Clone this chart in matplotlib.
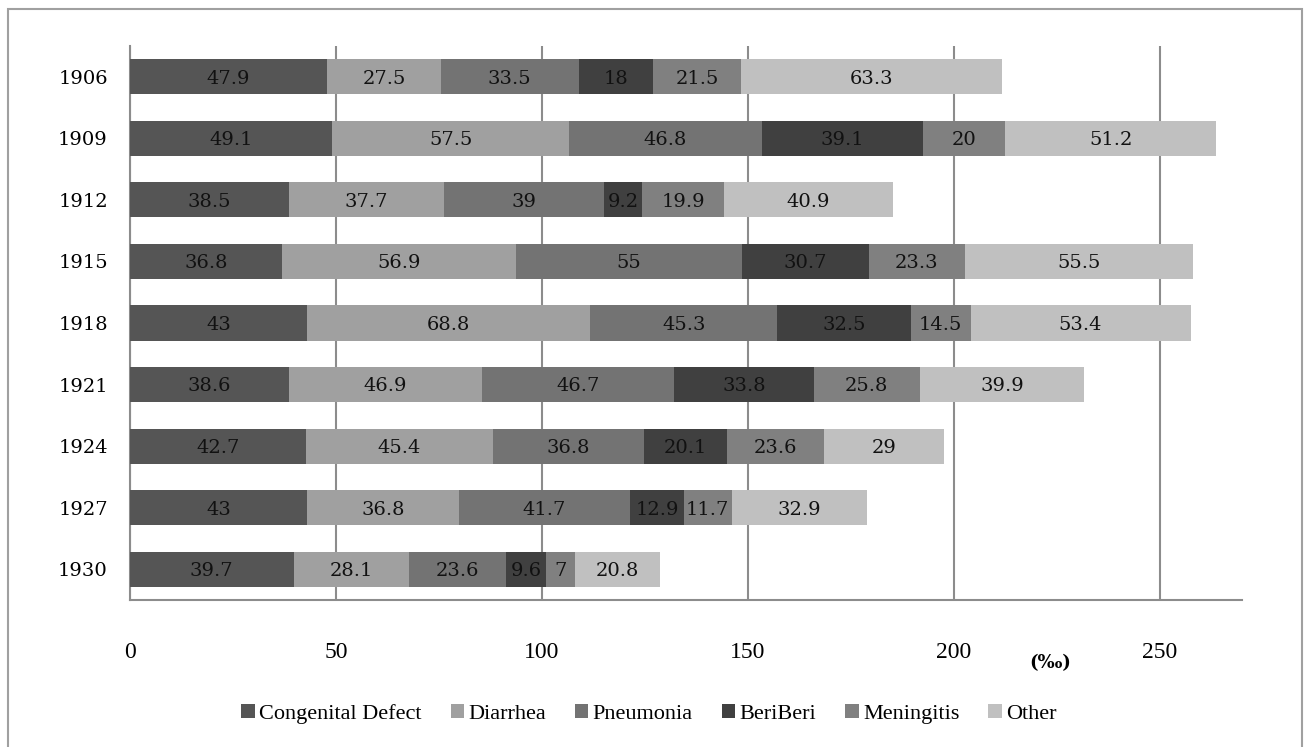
import matplotlib as mpl
import matplotlib.pyplot as plt
import numpy as np
from matplotlib.patches import Rectangle

mpl.use('agg')

years = ['1906', '1909', '1912', '1915', '1918', '1921', '1924', '1927', '1930']
causes = ['Congenital Defect', 'Diarrhea', 'Pneumonia', 'BeriBeri', 'Meningitis', 'Other']

congenital = [47.9, 49.1, 38.5, 36.8, 43, 38.6, 42.7, 43, 39.7]
diarrhea = [27.5, 57.5, 37.7, 56.9, 68.8, 46.9, 45.4, 36.8, 28.1]
pneumonia = [33.5, 46.8, 39, 55, 45.3, 46.7, 36.8, 41.7, 23.6]
beriberi = [18, 39.1, 9.2, 30.7, 32.5, 33.8, 20.1, 12.9, 9.6]
meningitis = [21.5, 20, 19.9, 23.3, 14.5, 25.8, 23.6, 11.7, 7]
other = [63.3, 51.2, 40.9, 55.5, 53.4, 39.9, 29, 32.9, 20.8]

series = [congenital, diarrhea, pneumonia, beriberi, meningitis, other]
colors = ['#555555', '#a0a0a0', '#737373', '#404040', '#808080', '#c0c0c0']

W, H = 1304, 747
fig = plt.figure(figsize=(W / 100, H / 100), dpi=100)
ax = fig.add_axes([130 / W, 1 - 600 / H, (1242 - 130) / W, (600 - 46) / H])

# outer frame like the spreadsheet chart area
fig.patches.append(Rectangle((8 / W, -0.02), (1302 - 8) / W, 1.02 - 9 / H,
                             transform=fig.transFigure, fill=False,
                             edgecolor='#a0a0a0', lw=1.5))

ypos = np.arange(len(years))
left = np.zeros(len(years))
for name, vals, c in zip(causes, series, colors):
    vals = np.array(vals)
    ax.barh(ypos, vals, left=left, height=0.57, color=c, label=name, zorder=3)
    for y, v, l in zip(ypos, vals, left):
        ax.text(l + v / 2, y + 0.03, f'{v:g}', ha='center', va='center',
                family='DejaVu Serif', fontsize=14, color='#111111', zorder=4)
    left += vals

ax.set_xlim(0, 270)
ax.set_ylim(len(years) - 0.5, -0.5)
ax.set_yticks(ypos)
ax.set_yticklabels(years, family='DejaVu Serif', fontsize=14)
ax.set_xticks([0, 50, 100, 150, 200, 250])
ax.set_xticklabels(['0', '50', '100', '150', '200', '250'], family='Liberation Serif', fontsize=17)
ax.tick_params(axis='both', length=0)
ax.tick_params(axis='x', pad=30)
ax.tick_params(axis='y', pad=16)

ax.grid(axis='x', color='#8c8c8c', lw=1.5, zorder=0)
for s in ['top', 'right']:
    ax.spines[s].set_visible(False)
for s in ['left', 'bottom']:
    ax.spines[s].set_color('#8c8c8c')
    ax.spines[s].set_linewidth(1.5)

fig.text(1050 / W, 1 - 663 / H, '(‰)', ha='center', va='center',
         family='DejaVu Serif', fontweight='bold', fontsize=13)

fig.legend(loc='center', bbox_to_anchor=(649 / W, 1 - 714 / H), ncol=6,
           frameon=False, handlelength=0.6, handleheight=0.6, handletextpad=0.2,
           columnspacing=1.3, prop={'family': 'Liberation Serif', 'size': 16})

fig.savefig('out.png', dpi=100)
